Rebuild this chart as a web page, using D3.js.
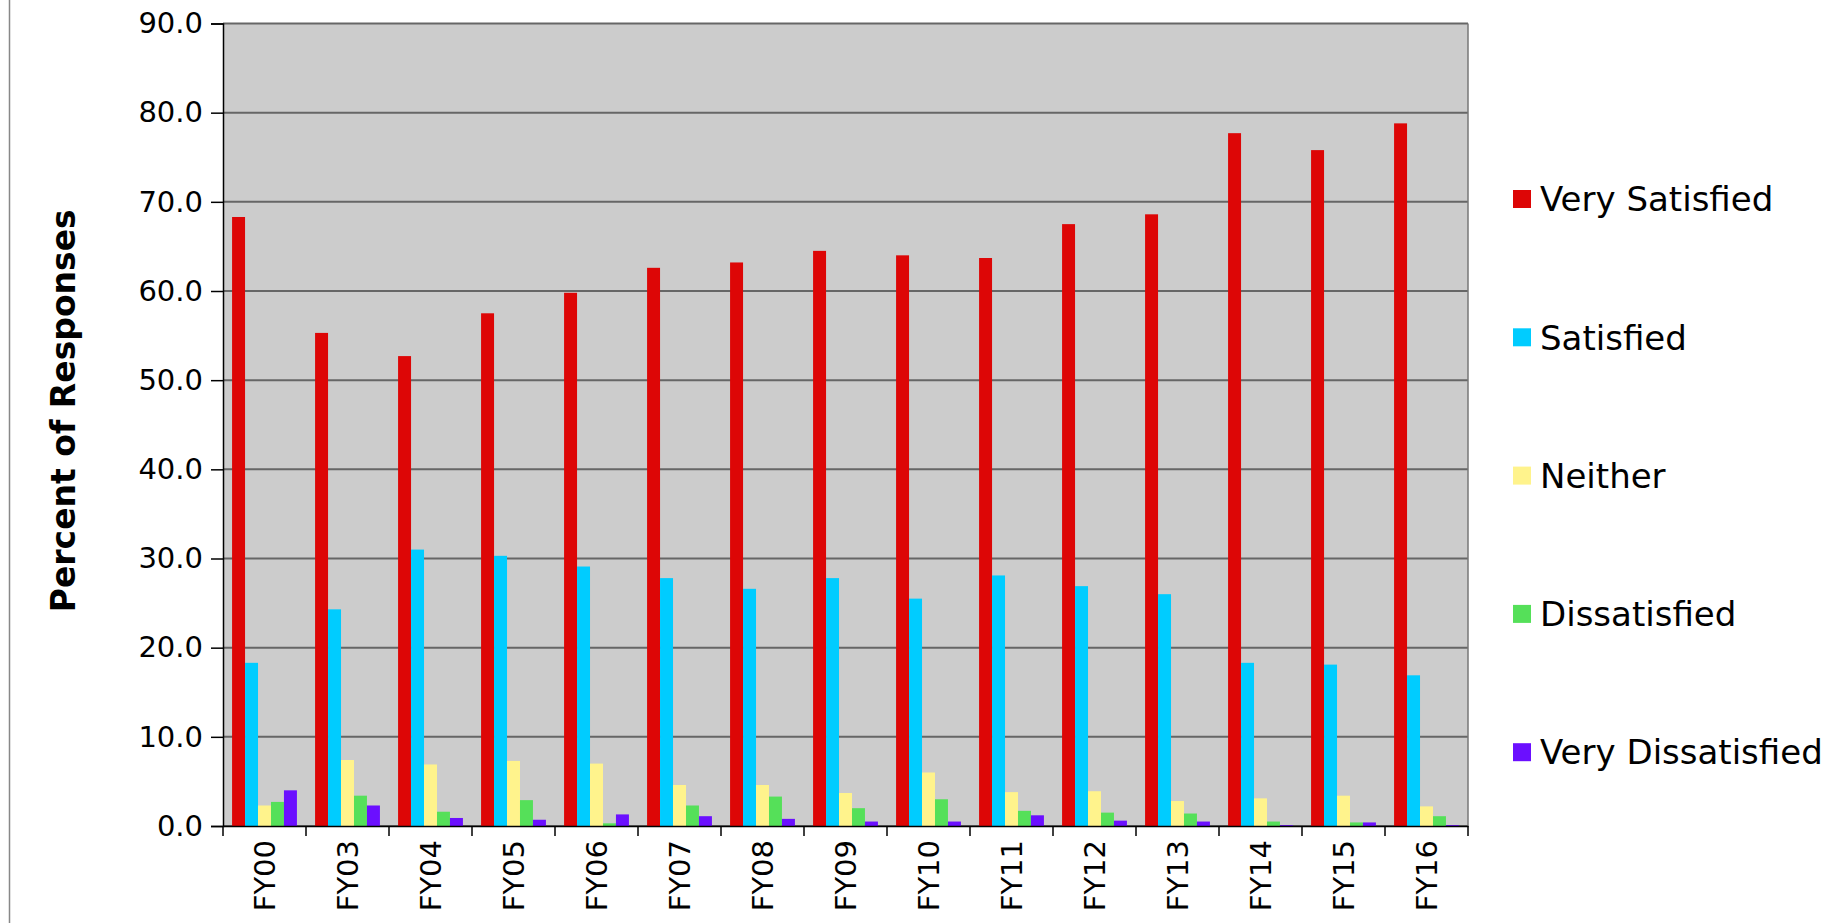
<!DOCTYPE html>
<html><head><meta charset="utf-8">
<script src="https://cdn.jsdelivr.net/npm/d3@7"></script>
<style>body{margin:0;background:#fff}svg{display:block}</style>
</head><body><svg id="c" width="1839" height="923"></svg>
<script>
const categories=["FY00","FY03","FY04","FY05","FY06","FY07","FY08","FY09","FY10","FY11","FY12","FY13","FY14","FY15","FY16"];
const seriesNames=["Very Satisfied","Satisfied","Neither","Dissatisfied","Very Dissatisfied"];
const seriesColors=["#dd0606","#00ccff","#fff38c","#55e059","#6b0fff"];
const verySatisfied=[68.3,55.3,52.7,57.5,59.8,62.6,63.2,64.5,64.0,63.7,67.5,68.6,77.7,75.8,78.8];
const satisfied=[18.3,24.3,31.0,30.3,29.1,27.8,26.6,27.8,25.5,28.1,26.9,26.0,18.3,18.1,16.9];
const neither=[2.3,7.4,6.9,7.3,7.0,4.6,4.6,3.7,6.0,3.8,3.9,2.8,3.1,3.4,2.2];
const dissatisfied=[2.7,3.4,1.6,2.9,0.3,2.3,3.3,2.0,3.0,1.7,1.5,1.4,0.5,0.4,1.1];
const veryDissatisfied=[4.0,2.3,0.9,0.7,1.3,1.1,0.8,0.5,0.5,1.2,0.6,0.5,0.1,0.4,0.1];
const yTicks=[0,10,20,30,40,50,60,70,80,90];
const series=[verySatisfied,satisfied,neither,dissatisfied,veryDissatisfied];

const svg=d3.select("#c");
const L=223,R=1468,T=23.5,B=826;
const FF="Verdana, DejaVu Sans, sans-serif";
svg.append("line").attr("x1",9.5).attr("x2",9.5).attr("y1",0).attr("y2",923).attr("stroke","#888").attr("stroke-width",1.5);
const x=d3.scaleBand().domain(categories).range([L,R]);
const xi=d3.scaleBand().domain(d3.range(5)).range([0,x.bandwidth()]).paddingOuter(0.7);
const y=d3.scaleLinear().domain([0,90]).range([B,T]);
svg.append("rect").attr("x",L).attr("y",T).attr("width",R-L).attr("height",B-T).attr("fill","#cccccc");
svg.append("g").selectAll("line").data(yTicks).join("line")
 .attr("x1",L).attr("x2",R).attr("y1",d=>y(d)).attr("y2",d=>y(d)).attr("stroke","#666").attr("stroke-width",2);
svg.append("line").attr("x1",R).attr("x2",R).attr("y1",T).attr("y2",B).attr("stroke","#777").attr("stroke-width",1.5);
const g=svg.append("g").selectAll("g").data(categories).join("g").attr("transform",d=>`translate(${x(d)},0)`);
g.selectAll("rect").data((c,i)=>series.map((s,k)=>({k,v:s[i]}))).join("rect")
 .attr("x",d=>xi(d.k)).attr("width",xi.bandwidth()).attr("y",d=>y(d.v)).attr("height",d=>B-y(d.v)).attr("fill",d=>seriesColors[d.k]);
const ya=svg.append("g").attr("transform",`translate(${L},0)`)
 .call(d3.axisLeft(y).tickValues(yTicks).tickFormat(d3.format(".1f")).tickSize(12).tickPadding(8));
ya.selectAll("text").attr("font-family",FF).attr("font-size",29).attr("fill","#000");
ya.selectAll("line,path").attr("stroke","#000").attr("stroke-width",1.5);
const xa=svg.append("g").attr("transform",`translate(0,${B})`)
 .call(d3.axisBottom(x).tickSize(0));
xa.select("path").attr("stroke","#000").attr("stroke-width",1.5);
xa.selectAll("text").attr("font-family",FF).attr("font-size",29).attr("fill","#000")
 .attr("transform","rotate(-90)").attr("text-anchor","end").attr("dy","0.35em").attr("x",-14).attr("y",0);
svg.append("g").selectAll("line").data(d3.range(categories.length+1)).join("line")
 .attr("x1",i=>L+i*x.step()).attr("x2",i=>L+i*x.step()).attr("y1",B).attr("y2",B+10).attr("stroke","#000").attr("stroke-width",1.5);
svg.append("text").attr("transform",`translate(75,${(T+B)/2-14}) rotate(-90)`).attr("text-anchor","middle")
 .attr("font-family",FF).attr("font-weight","bold").attr("font-size",33).text("Percent of Responses");
const leg=svg.append("g").selectAll("g").data(seriesNames).join("g").attr("transform",(d,i)=>`translate(1513,${199+i*138.3})`);
leg.append("rect").attr("x",0).attr("y",-9).attr("width",18).attr("height",18).attr("fill",(d,i)=>seriesColors[i]);
leg.append("text").attr("x",27).attr("dy","0.36em").attr("font-family",FF).attr("font-size",34).text(d=>d);
</script></body></html>
